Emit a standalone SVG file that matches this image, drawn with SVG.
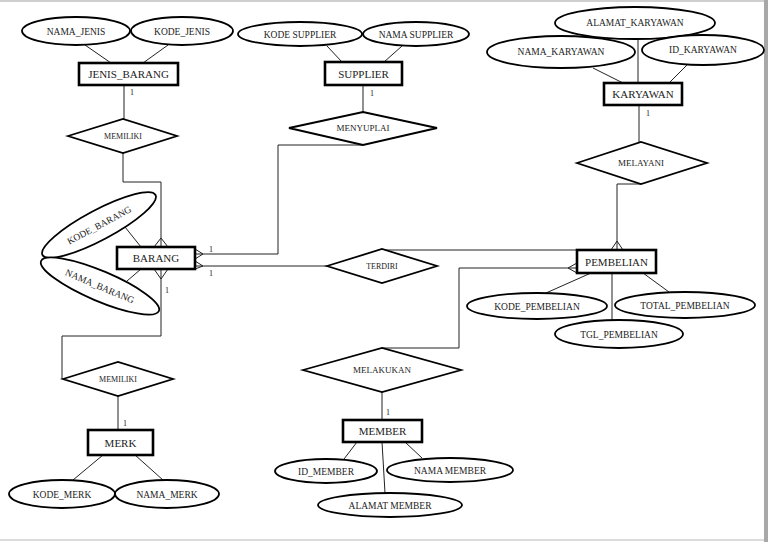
<svg xmlns="http://www.w3.org/2000/svg" width="768" height="542" viewBox="0 0 768 542">
<style>
text{font-family:"Liberation Serif","Times New Roman",serif;fill:#222;text-anchor:middle}
.ent rect{fill:#fff;stroke:#000;stroke-width:2.6}
.ent text{font-size:11px}
.att ellipse{fill:#fff;stroke:#000;stroke-width:1.8}
.att text{font-size:9.5px}
.rel polygon{fill:#fff;stroke:#000;stroke-width:1.8}
.rel text{font-size:9px}
.rel text.s{font-size:8px}
#connectors line,#connectors polyline{fill:none;stroke:#222;stroke-width:1}
.card{font-size:8px}
</style>
<rect x="0" y="0" width="768" height="542" fill="#fff"/>
<rect x="0" y="0" width="768" height="2" fill="#cfcfcf"/>
<rect x="764" y="0" width="4" height="542" fill="#a8a8a8"/>
<rect x="0" y="539" width="764" height="2" fill="#dcdcdc"/>

<g id="connectors">
<line x1="85" y1="45" x2="111" y2="63"/>
<line x1="168" y1="45" x2="143" y2="63"/>
<line x1="327" y1="46" x2="342" y2="62"/>
<line x1="402" y1="46" x2="384" y2="62"/>
<line x1="593" y1="68" x2="623" y2="83"/>
<line x1="638" y1="39" x2="638" y2="83"/>
<line x1="687" y1="65" x2="669" y2="83"/>
<line x1="125" y1="227" x2="141" y2="247"/>
<line x1="127" y1="281" x2="141" y2="269"/>
<line x1="591" y1="273" x2="546" y2="293"/>
<line x1="612" y1="273" x2="612" y2="320"/>
<line x1="643" y1="273" x2="669" y2="292"/>
<line x1="103" y1="455" x2="73" y2="480"/>
<line x1="135" y1="455" x2="163" y2="480"/>
<line x1="357" y1="442" x2="344" y2="459"/>
<line x1="405" y1="442" x2="422" y2="458"/>
<line x1="382" y1="442" x2="385" y2="493"/>
<line x1="124" y1="85" x2="124" y2="119"/>
<polyline points="123,153 123,182 161,182 161,247"/>
<line x1="363" y1="85" x2="363" y2="112"/>
<polyline points="363,145 278,145 278,254 195,254"/>
<line x1="639" y1="105" x2="639" y2="142"/>
<polyline points="641,184 617,184 617,250"/>
<line x1="195" y1="266" x2="327" y2="266"/>
<line x1="382" y1="250" x2="577" y2="250"/>
<polyline points="577,268 459,268 459,348 382,348"/>
<line x1="382" y1="392" x2="382" y2="420"/>
<polyline points="161,269 161,336 62,336 62,379"/>
<line x1="118" y1="396" x2="118" y2="430"/>
<polyline points="154,247 161,238 168,247"/>
<polyline points="154,269 161,279 168,269"/>
<polyline points="195,249 203,254 195,259"/>
<polyline points="195,261 203,266 195,269"/>
<polyline points="611,250 617,241 623,250"/>
<polyline points="577,263 568,268 577,273"/>
<text class="card" x="132" y="95">1</text>
<text class="card" x="372" y="96">1</text>
<text class="card" x="648" y="116">1</text>
<text class="card" x="211" y="252">1</text>
<text class="card" x="211" y="276">1</text>
<text class="card" x="167" y="293">1</text>
<text class="card" x="125" y="426">1</text>
<text class="card" x="388" y="415">1</text>
</g>

<g id="attr-nama-jenis" class="att"><ellipse cx="76" cy="31" rx="54" ry="14"/><text x="76" y="34.5">NAMA_JENIS</text></g>
<g id="attr-kode-jenis" class="att"><ellipse cx="182" cy="31" rx="51" ry="14"/><text x="182" y="34.5">KODE_JENIS</text></g>
<g id="attr-kode-supplier" class="att"><ellipse cx="300" cy="34" rx="62" ry="12"/><text x="300" y="37.5">KODE  SUPPLIER</text></g>
<g id="attr-nama-supplier" class="att"><ellipse cx="416" cy="34" rx="53" ry="12"/><text x="416" y="37.5">NAMA  SUPPLIER</text></g>
<g id="attr-alamat-karyawan" class="att"><ellipse cx="635" cy="23" rx="80" ry="16"/><text x="635" y="26">ALAMAT_KARYAWAN</text></g>
<g id="attr-nama-karyawan" class="att"><ellipse cx="561" cy="52" rx="74" ry="16"/><text x="561" y="55">NAMA_KARYAWAN</text></g>
<g id="attr-id-karyawan" class="att"><ellipse cx="703" cy="50" rx="61" ry="15"/><text x="703" y="53">ID_KARYAWAN</text></g>
<g id="attr-kode-barang" class="att" transform="rotate(-28 99 225)"><ellipse cx="99" cy="225" rx="64" ry="15"/><text x="99" y="228.5">KODE_BARANG</text></g>
<g id="attr-nama-barang" class="att" transform="rotate(23 100 286)"><ellipse cx="100" cy="286" rx="64" ry="15"/><text x="100" y="289.5">NAMA_BARANG</text></g>
<g id="attr-kode-pembelian" class="att"><ellipse cx="537" cy="306" rx="70" ry="13"/><text x="537" y="309.5">KODE_PEMBELIAN</text></g>
<g id="attr-total-pembelian" class="att"><ellipse cx="685" cy="305" rx="70" ry="13"/><text x="685" y="308.5">TOTAL_PEMBELIAN</text></g>
<g id="attr-tgl-pembelian" class="att"><ellipse cx="619" cy="334" rx="64" ry="14"/><text x="619" y="337.5">TGL_PEMBELIAN</text></g>
<g id="attr-kode-merk" class="att"><ellipse cx="62" cy="494" rx="53" ry="14"/><text x="62" y="497.5">KODE_MERK</text></g>
<g id="attr-nama-merk" class="att"><ellipse cx="167" cy="494" rx="52" ry="14"/><text x="167" y="497.5">NAMA_MERK</text></g>
<g id="attr-id-member" class="att"><ellipse cx="326" cy="471" rx="51" ry="12"/><text x="326" y="474.5">ID_MEMBER</text></g>
<g id="attr-nama-member" class="att"><ellipse cx="450" cy="470" rx="63" ry="12"/><text x="450" y="473.5">NAMA  MEMBER</text></g>
<g id="attr-alamat-member" class="att"><ellipse cx="390" cy="505" rx="72" ry="12"/><text x="390" y="508.5">ALAMAT  MEMBER</text></g>

<g id="rel-memiliki-1" class="rel"><polygon points="68,136 123,119 177,136 123,153"/><text class="s" x="123" y="139">MEMILIKI</text></g>
<g id="rel-menyuplai" class="rel"><polygon points="289,128 363,112 437,128 363,145"/><text x="363" y="131">MENYUPLAI</text></g>
<g id="rel-melayani" class="rel"><polygon points="577,163 641,142 707,163 641,184"/><text x="641" y="166">MELAYANI</text></g>
<g id="rel-terdiri" class="rel"><polygon points="327,266 382,249 437,266 382,283"/><text class="s" x="382" y="269">TERDIRI</text></g>
<g id="rel-melakukan" class="rel"><polygon points="303,370 382,348 461,370 382,392"/><text x="382" y="373">MELAKUKAN</text></g>
<g id="rel-memiliki-2" class="rel"><polygon points="63,379 118,362 173,379 118,396"/><text class="s" x="118" y="382">MEMILIKI</text></g>

<g id="ent-jenis-barang" class="ent"><rect x="79" y="63" width="99" height="22"/><text x="128.5" y="78">JENIS_BARANG</text></g>
<g id="ent-supplier" class="ent"><rect x="325" y="62" width="77" height="23"/><text x="363.5" y="77.5">SUPPLIER</text></g>
<g id="ent-karyawan" class="ent"><rect x="604" y="83" width="78" height="22"/><text x="643" y="98">KARYAWAN</text></g>
<g id="ent-barang" class="ent"><rect x="117" y="247" width="78" height="22"/><text x="156" y="262">BARANG</text></g>
<g id="ent-pembelian" class="ent"><rect x="577" y="250" width="79" height="23"/><text x="616.5" y="265.5">PEMBELIAN</text></g>
<g id="ent-merk" class="ent"><rect x="88" y="430" width="65" height="25"/><text x="120.5" y="446.5">MERK</text></g>
<g id="ent-member" class="ent"><rect x="343" y="420" width="79" height="22"/><text x="382.5" y="435">MEMBER</text></g>
</svg>
